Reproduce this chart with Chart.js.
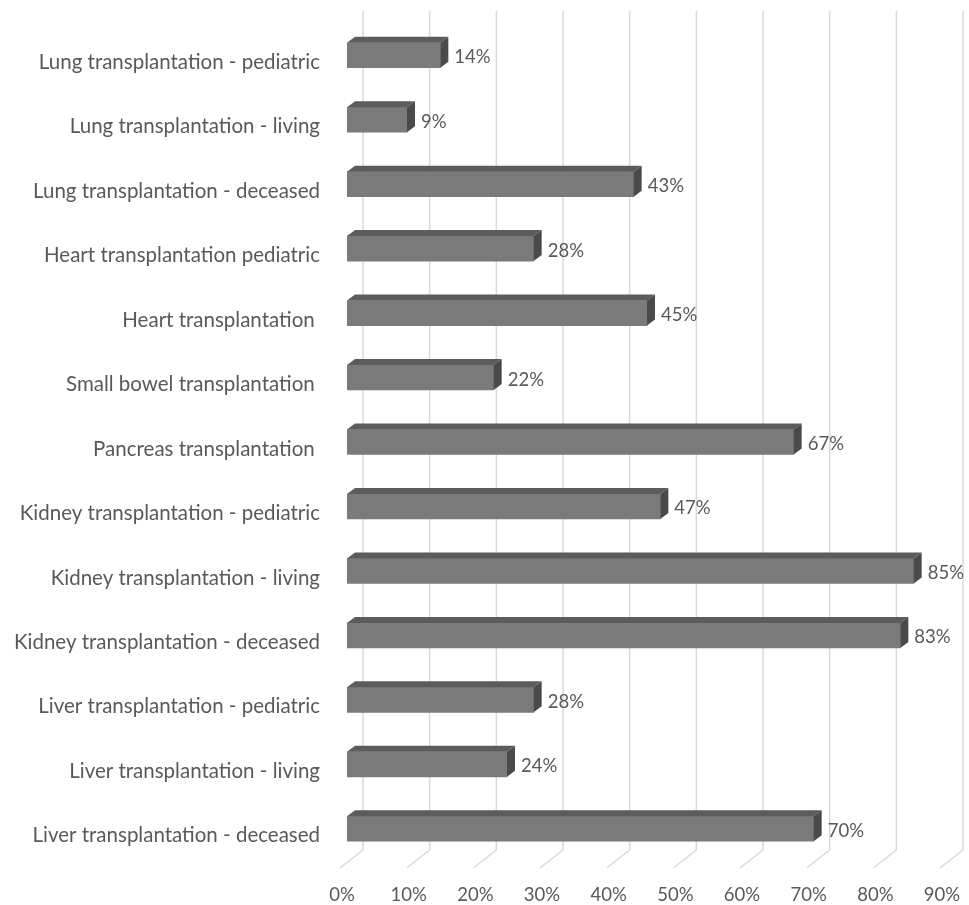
<!DOCTYPE html>
<html>
<head>
<meta charset="utf-8">
<script src="https://cdn.jsdelivr.net/npm/chart.js@4/dist/chart.umd.min.js"></script>
<style>
  html, body { margin: 0; padding: 0; background: #ffffff; }
  #wrap { width: 969px; height: 905px; position: relative; }
</style>
</head>
<body>
<div id="wrap"><canvas id="c"></canvas></div>
<script>
const categories = [
  "Lung transplantation - pediatric",
  "Lung transplantation - living",
  "Lung transplantation - deceased",
  "Heart transplantation pediatric",
  "Heart transplantation ",
  "Small bowel transplantation ",
  "Pancreas transplantation ",
  "Kidney transplantation - pediatric",
  "Kidney transplantation - living",
  "Kidney transplantation - deceased",
  "Liver transplantation - pediatric",
  "Liver transplantation - living",
  "Liver transplantation - deceased"
];
const percentValues = [14, 9, 43, 28, 45, 22, 67, 47, 85, 83, 28, 24, 70];
const xTickValues = [0, 10, 20, 30, 40, 50, 60, 70, 80, 90];

const FONT = "Lato, 'Open Sans', sans-serif";
const TEXT_COLOR = "#595959";

const bar3d = {
  id: "bar3d",
  beforeDatasetsDraw(chart) {
    const ctx = chart.ctx;
    const xs = chart.scales.x;
    const area = chart.chartArea;
    ctx.save();
    ctx.strokeStyle = "#d9d9d9";
    ctx.lineWidth = 1.5;
    xTickValues.forEach(v => {
      const xf = xs.getPixelForValue(v);
      ctx.beginPath();
      ctx.moveTo(xf + 16, area.top - 12);
      ctx.lineTo(xf + 16, area.bottom - 11);
      ctx.lineTo(xf - 7, area.bottom + 7);
      ctx.stroke();
    });
    ctx.restore();
  },
  afterDatasetsDraw(chart) {
    const ctx = chart.ctx;
    const meta = chart.getDatasetMeta(0);
    const dx = 8, dy = 6;
    ctx.save();
    meta.data.forEach((el, i) => {
      const p = el.getProps(["x", "y", "base", "height"], true);
      const left = p.base, right = p.x;
      const top = p.y - p.height / 2, bottom = p.y + p.height / 2;
      ctx.fillStyle = "#5c5c5c";
      ctx.beginPath();
      ctx.moveTo(left, top);
      ctx.lineTo(left + dx, top - dy);
      ctx.lineTo(right + dx, top - dy);
      ctx.lineTo(right, top);
      ctx.closePath();
      ctx.fill();
      ctx.fillStyle = "#4a4a4a";
      ctx.beginPath();
      ctx.moveTo(right, top);
      ctx.lineTo(right + dx, top - dy);
      ctx.lineTo(right + dx, bottom - dy);
      ctx.lineTo(right, bottom);
      ctx.closePath();
      ctx.fill();
      ctx.fillStyle = TEXT_COLOR;
      ctx.font = "18.5px " + FONT;
      ctx.textAlign = "left";
      ctx.textBaseline = "middle";
      ctx.fillText(percentValues[i] + "%", right + 14, p.y + 2);
    });
    ctx.restore();
  }
};

new Chart(document.getElementById("c"), {
  type: "bar",
  data: {
    labels: categories,
    datasets: [{
      data: percentValues,
      backgroundColor: "#7a7a7a",
      borderWidth: 0,
      barThickness: 25
    }]
  },
  options: {
    indexAxis: "y",
    responsive: true,
    maintainAspectRatio: false,
    animation: false,
    devicePixelRatio: 1,
    layout: { padding: { top: 23, right: 22, left: 0, bottom: 0 } },
    plugins: { legend: { display: false }, tooltip: { enabled: false } },
    scales: {
      x: {
        min: 0, max: 90,
        afterBuildTicks: (s) => { s.ticks = xTickValues.map(v => ({ value: v })); },
        afterFit: (s) => { s.height = 44; s.paddingLeft = 0; s.paddingRight = 0; },
        grid: { display: false, drawTicks: false },
        border: { display: false },
        ticks: {
          callback: (v) => v + "%",
          color: TEXT_COLOR,
          font: { family: FONT, size: 18.5 },
          padding: 23,
          labelOffset: -5,
          maxRotation: 0,
          autoSkip: false
        }
      },
      y: {
        afterFit: (s) => { s.width = 347; s.paddingTop = 0; s.paddingBottom = 0; },
        grid: { display: false, drawTicks: false },
        border: { display: false },
        ticks: {
          color: TEXT_COLOR,
          font: { family: FONT, size: 20.5 },
          padding: 27,
          labelOffset: 7,
          autoSkip: false
        }
      }
    }
  },
  plugins: [bar3d]
});
</script>
</body>
</html>
